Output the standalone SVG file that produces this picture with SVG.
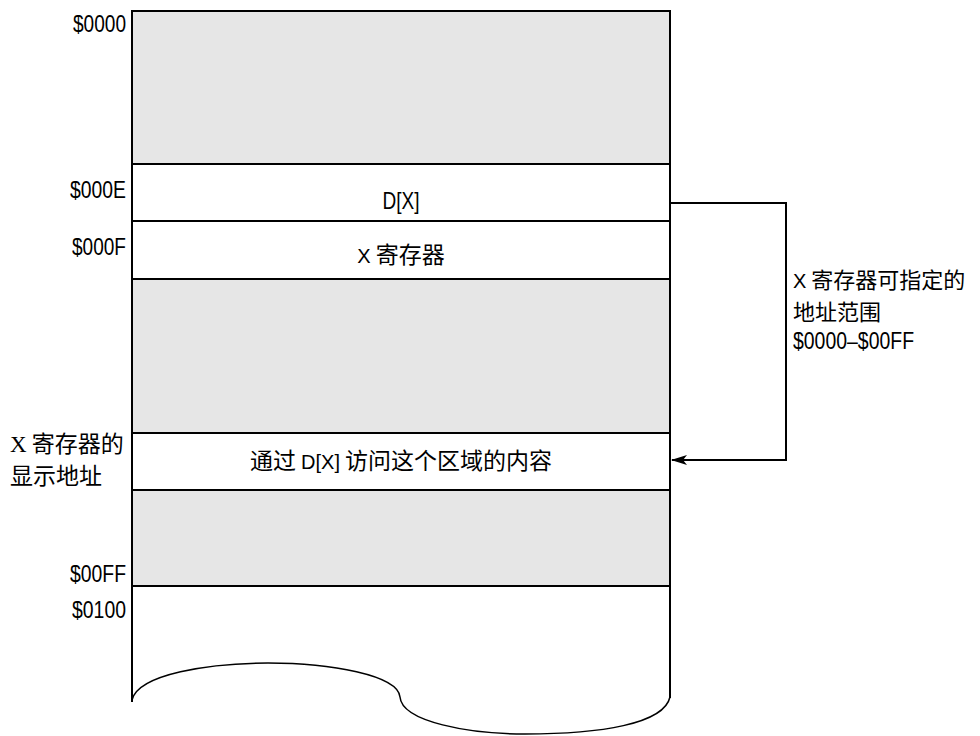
<svg xmlns="http://www.w3.org/2000/svg" width="980" height="736" viewBox="0 0 980 736">
<style>
.box{stroke:#000;stroke-width:2}
.g{fill:#e6e6e6}
.w{fill:#fff}
.la{font-family:"Liberation Sans",Arial,sans-serif;font-size:24px;fill:#000}
.lt{font-family:"Liberation Sans",Arial,sans-serif;font-size:20px}
.cj{font-family:"Noto Sans CJK SC","Noto Sans CJK JP",sans-serif;font-size:23px;fill:#000}
.s22{font-size:22px}
.sf{font-family:"Liberation Serif",serif;font-size:23px}
.r{text-anchor:end}
.c{text-anchor:middle}
.conn{fill:none;stroke:#000;stroke-width:2}
</style>
<defs>
<marker id="ah" markerWidth="16" markerHeight="10" refX="15" refY="5" orient="auto" markerUnits="userSpaceOnUse">
<path d="M0,0 L16,5 L0,10 L4,5 Z" fill="#000"/>
</marker>
</defs>
<rect width="980" height="736" fill="#fff"/>
<g id="mem">
<rect class="box g" x="132" y="11" width="538" height="153"/>
<rect class="box w" x="132" y="164" width="538" height="57"/>
<rect class="box w" x="132" y="221" width="538" height="58"/>
<rect class="box g" x="132" y="279" width="538" height="154"/>
<rect class="box w" x="132" y="433" width="538" height="57"/>
<rect class="box g" x="132" y="490" width="538" height="96"/>
<path d="M132,586 L132,702 M670,586 L670,698" stroke="#000" stroke-width="2" fill="none"/>
<path d="M132,700 C138,674 210,663 268,663 C330,663 398,675 400,697 C402,722 470,734 525,734 C600,734 664,724 670,697" fill="none" stroke="#000" stroke-width="1.5"/>
</g>
<g id="cells">
<text class="la c" x="401" y="209" textLength="37" lengthAdjust="spacingAndGlyphs">D[X]</text>
<text class="cj c" x="401" y="263"><tspan class="lt">X</tspan> 寄存器</text>
<text class="cj c" x="401" y="469">通过 <tspan class="lt">D[X]</tspan> 访问这个区域的内容</text>
</g>
<g id="addr">
<text class="la r" x="126" y="32" textLength="53" lengthAdjust="spacingAndGlyphs">$0000</text>
<text class="la r" x="126" y="198" textLength="56" lengthAdjust="spacingAndGlyphs">$000E</text>
<text class="la r" x="126" y="255" textLength="54" lengthAdjust="spacingAndGlyphs">$000F</text>
<text class="la r" x="126" y="582" textLength="56" lengthAdjust="spacingAndGlyphs">$00FF</text>
<text class="la r" x="126" y="618" textLength="54" lengthAdjust="spacingAndGlyphs">$0100</text>
</g>
<g id="xlabel">
<text class="cj" x="10" y="452"><tspan class="sf">X</tspan> 寄存器的</text>
<text class="cj" x="10" y="484">显示地址</text>
</g>
<g id="range">
<text class="cj s22" x="793" y="288"><tspan class="lt">X</tspan> 寄存器可指定的</text>
<text class="cj s22" x="793" y="320">地址范围</text>
<text class="la" x="793" y="349" textLength="121" lengthAdjust="spacingAndGlyphs">$0000–$00FF</text>
</g>
<g id="connectors">
<path class="conn" d="M670,203 L786,203 L786,460 L672,460" marker-end="url(#ah)"/>
</g>
</svg>
